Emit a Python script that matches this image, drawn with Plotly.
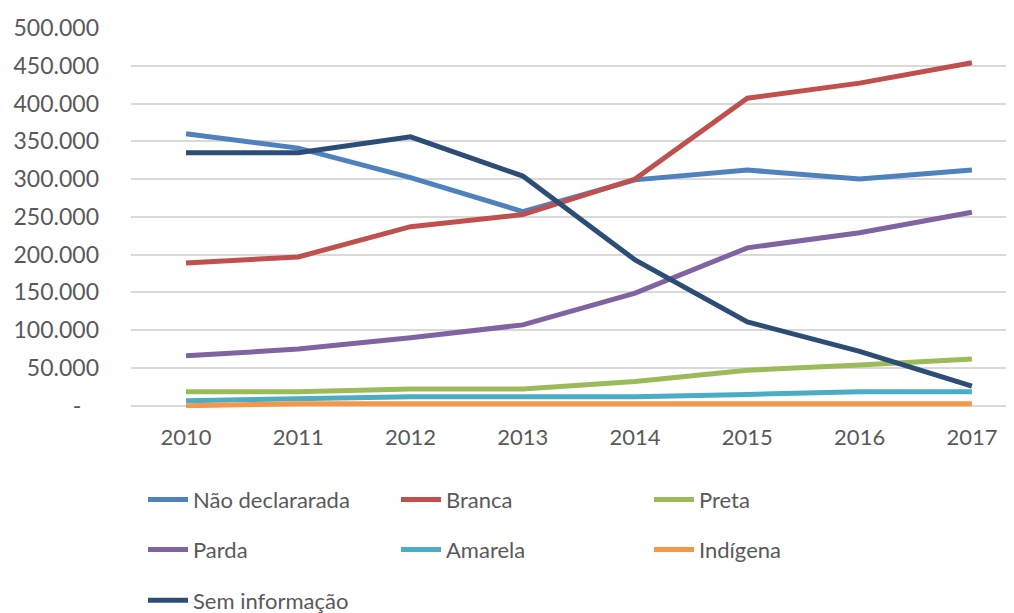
import plotly.graph_objects as go

years = ["2010", "2011", "2012", "2013", "2014", "2015", "2016", "2017"]
nao_declarada = [360000, 341000, 302000, 257000, 299000, 312000, 300000, 312000]
branca = [189000, 197000, 237000, 253000, 300000, 407000, 427000, 454000]
preta = [18500, 18500, 22000, 22000, 32000, 47000, 54000, 62000]
parda = [66000, 75000, 90000, 107000, 149000, 209000, 229000, 256000]
amarela = [6600, 9000, 12000, 12000, 12000, 15000, 18500, 18500]
indigena = [0, 2600, 2600, 2600, 2600, 2600, 2600, 2600]
sem_info = [335000, 335000, 356000, 304000, 193000, 111000, 72000, 26000]

y_tickvals = [0, 50000, 100000, 150000, 200000, 250000, 300000, 350000, 400000, 450000, 500000]
y_ticktext = ["-\u00a0\u00a0\u00a0", "50.000", "100.000", "150.000", "200.000", "250.000",
              "300.000", "350.000", "400.000", "450.000", "500.000"]

series = [
    ("Não declararada", nao_declarada, "#4F81BD", "legend"),
    ("Branca", branca, "#C0504D", "legend"),
    ("Preta", preta, "#9BBB59", "legend"),
    ("Parda", parda, "#8064A2", "legend2"),
    ("Amarela", amarela, "#4BACC6", "legend2"),
    ("Indígena", indigena, "#F79646", "legend2"),
    ("Sem informação", sem_info, "#2C4D75", "legend3"),
]

fig = go.Figure()
for name, vals, color, lg in series:
    fig.add_trace(go.Scatter(
        x=years, y=vals, name=name, mode="lines",
        line=dict(color=color, width=5),
        legend=lg,
    ))

font = dict(family="Lato, Carlito, Calibri, sans-serif", size=22, color="#595959")
yfont = dict(family="Lato, Carlito, Calibri, sans-serif", size=23, color="#595959")
leg_common = dict(orientation="h", xanchor="left", yanchor="middle",
                  entrywidth=198, entrywidthmode="pixels",
                  font=font, bgcolor="rgba(0,0,0,0)", itemwidth=40)

# page body has an 8px margin; figure placed at (8, 8)
OFF = 8
W, H = 1014 - OFF, 613 - OFF
ml, mr, mt = 131 - OFF, 0, 28 - OFF
mb = H - (408.3 - OFF)

def ypaper(py):
    return (H - mb - (py - OFF)) / (H - mt - mb)

def xpaper(px):
    return (px - OFF - ml) / (W - ml - mr)

fig.update_layout(
    width=W, height=H,
    margin=dict(l=ml, r=mr, t=mt, b=mb, autoexpand=False),
    paper_bgcolor="white", plot_bgcolor="white",
    font=font,
    showlegend=True,
    legend=dict(x=xpaper(143), y=ypaper(500), **leg_common),
    legend2=dict(x=xpaper(143), y=ypaper(550), **leg_common),
    legend3=dict(x=xpaper(143), y=ypaper(601), **leg_common),
    xaxis=dict(
        type="category", range=[-0.49, 7.375],
        showgrid=False, showline=False, zeroline=False,
        ticks="", tickfont=font, ticklabelstandoff=14,
    ),
    yaxis=dict(
        range=[-3000, 500000],
        tickvals=y_tickvals, ticktext=y_ticktext,
        showgrid=True, gridcolor="#D9D9D9", gridwidth=1.5,
        zeroline=False, showline=False, ticks="",
        tickfont=yfont, ticklabelstandoff=31,
    ),
)

fig.write_html("out.html")
